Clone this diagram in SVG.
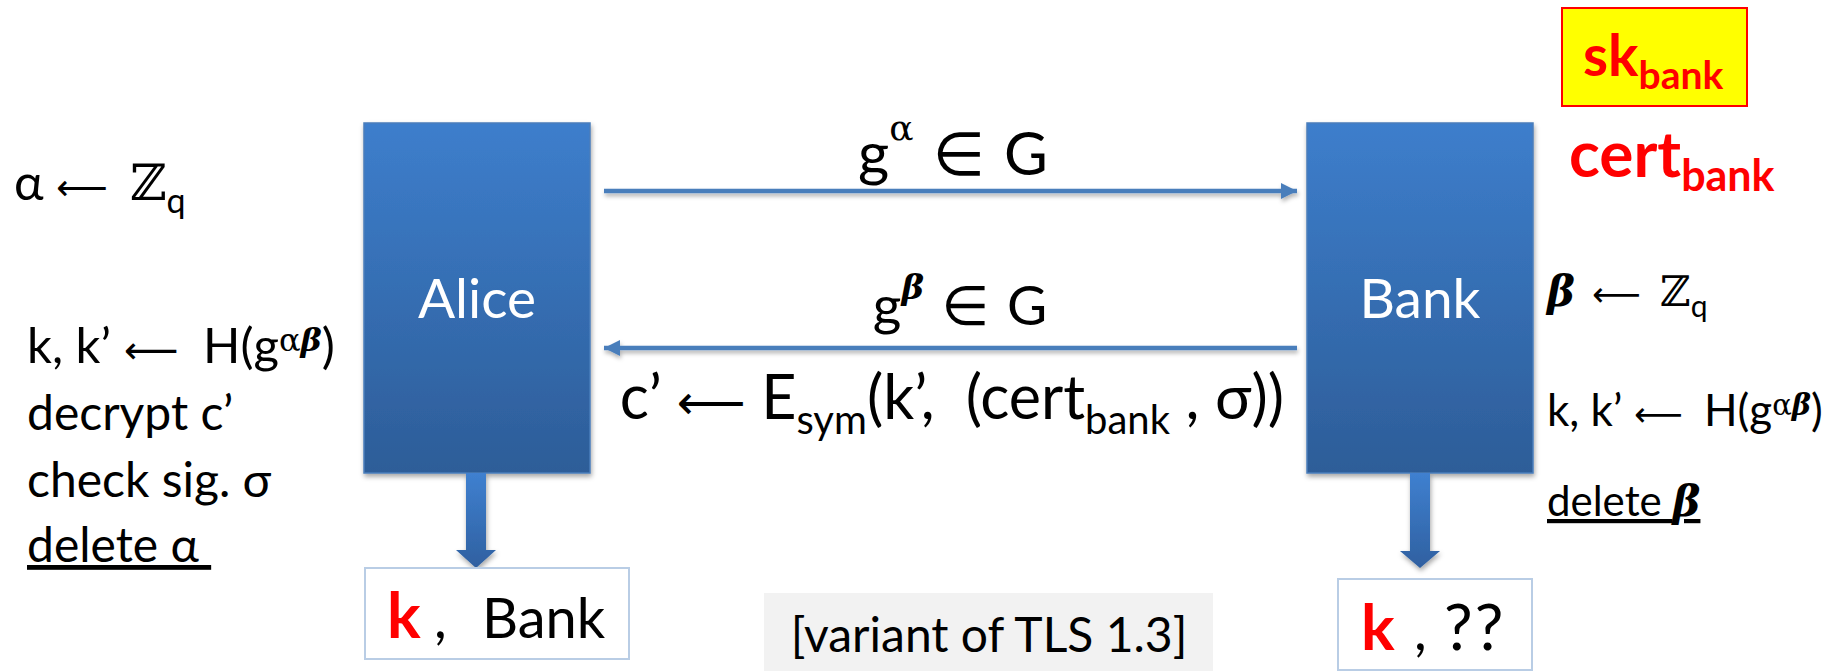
<svg xmlns="http://www.w3.org/2000/svg" width="1835" height="671" viewBox="0 0 1835 671">
<style>
 .t{font-family:Lato,"DejaVu Sans",sans-serif;fill:#000}
 .m{font-family:"DejaVu Serif","Liberation Serif",serif}
 .bi{font-family:"DejaVu Serif","Liberation Serif",serif;font-weight:bold;font-style:italic}
 .ar{font-family:"DejaVu Sans",sans-serif}
 .red{fill:#ff0000;font-weight:bold}
 .lbl{font-family:Lato,"DejaVu Sans",sans-serif;fill:#fff;font-size:55px;text-anchor:middle}
 .conn{stroke:#4a7ebb;stroke-width:4.5;fill:none}
 .res{fill:#fff;stroke:#b9cde5;stroke-width:2}
</style>
<defs>
 <linearGradient id="boxg" x1="0" y1="0" x2="0" y2="1">
  <stop offset="0" stop-color="#3d7ecc"/>
  <stop offset="1" stop-color="#2d5d98"/>
 </linearGradient>
 <linearGradient id="arrg" x1="0" y1="0" x2="0" y2="1">
  <stop offset="0" stop-color="#3f80d0"/>
  <stop offset="1" stop-color="#2f60a0"/>
 </linearGradient>
 <filter id="sh" x="-20%" y="-20%" width="140%" height="150%">
  <feDropShadow dx="1" dy="3" stdDeviation="2.5" flood-color="#000" flood-opacity="0.35"/>
 </filter>
 <filter id="lsh" filterUnits="userSpaceOnUse" x="0" y="0" width="1835" height="671">
  <feDropShadow dx="1" dy="3" stdDeviation="2" flood-color="#000" flood-opacity="0.3"/>
 </filter>
 <marker id="ah" viewBox="0 0 10 10" refX="10" refY="5" markerWidth="3.6" markerHeight="4" orient="auto" markerUnits="strokeWidth">
  <path d="M0,0 L10,5 L0,10 z" fill="#4a7ebb"/>
 </marker>
</defs>

<g id="alice">
 <rect x="364" y="123" width="226" height="350" fill="url(#boxg)" stroke="#4a7ebb" stroke-width="1.5" filter="url(#sh)"/>
 <text class="lbl" x="477" y="318">Alice</text>
</g>

<g id="bank">
 <rect x="1307" y="123" width="226" height="350" fill="url(#boxg)" stroke="#4a7ebb" stroke-width="1.5" filter="url(#sh)"/>
 <text class="lbl" x="1420" y="318">Bank</text>
</g>

<g id="connectors">
 <g filter="url(#lsh)">
  <line class="conn" x1="604" y1="191" x2="1297" y2="191" marker-end="url(#ah)"/>
  <line class="conn" x1="1297" y1="348" x2="604" y2="348" marker-end="url(#ah)"/>
 </g>
 <path d="M466,473 H486 V550 H496 L476,568 L456,550 H466 Z" fill="url(#arrg)" filter="url(#sh)"/>
 <path d="M1410,473 H1430 V551 H1440 L1420,568 L1400,551 H1410 Z" fill="url(#arrg)" filter="url(#sh)"/>
</g>

<g id="msg1">
 <text class="t" x="953" y="175" font-size="60" text-anchor="middle">g<tspan class="m" dy="-35" font-size="36">α</tspan><tspan class="ar" dy="35"> ∈ </tspan>G</text>
</g>
<g id="msg2">
 <text class="t" x="960" y="325" font-size="55" text-anchor="middle">g<tspan class="bi" dy="-26" font-size="34">β</tspan><tspan class="ar" dy="26"> ∈ </tspan>G</text>
</g>
<g id="msg3">
 <text class="t" x="952" y="419" font-size="61" text-anchor="middle" xml:space="preserve">c’ <tspan class="ar" font-size="48">⟵</tspan> E<tspan dy="15" font-size="40">sym</tspan><tspan dy="-15">(k’,  (cert</tspan><tspan dy="15" font-size="40">bank</tspan><tspan dy="-15"> , σ))</tspan></text>
</g>

<g id="alice-steps">
 <text class="t" x="14" y="200" font-size="50">α<tspan class="ar" x="56" font-size="36">⟵</tspan><tspan class="m" x="130">ℤ</tspan><tspan dy="13" font-size="34">q</tspan></text>
 <text class="t" x="27" y="363" font-size="49">k, k’<tspan class="ar" x="124" font-size="38">⟵</tspan><tspan x="203">H(g</tspan><tspan class="m" dy="-12" font-size="32">α</tspan><tspan class="bi" font-size="32">β</tspan><tspan dy="12">)</tspan></text>
 <text class="t" x="27" y="430" font-size="48">decrypt c’</text>
 <text class="t" x="27" y="497" font-size="48">check sig. σ</text>
 <text class="t" x="27" y="562" font-size="48" text-decoration="underline" xml:space="preserve">delete α </text>
</g>

<g id="bank-keys">
 <rect x="1562" y="8" width="185" height="98" fill="#ffff00" stroke="#ff0000" stroke-width="2"/>
 <text class="t red" x="1583" y="76" font-size="57">sk<tspan dy="13" font-size="39">bank</tspan></text>
 <text class="t red" x="1569" y="177" font-size="64">cert<tspan dy="14" font-size="43">bank</tspan></text>
</g>

<g id="bank-steps">
 <text class="t" x="1547" y="306" font-size="42"><tspan class="bi">β</tspan><tspan class="ar" x="1592" font-size="34">⟵</tspan><tspan class="m" x="1660">ℤ</tspan><tspan dy="11" font-size="30">q</tspan></text>
 <text class="t" x="1547" y="426" font-size="44">k, k’<tspan class="ar" x="1634" font-size="34">⟵</tspan><tspan x="1704">H(g</tspan><tspan class="m" dy="-11" font-size="29">α</tspan><tspan class="bi" font-size="29">β</tspan><tspan dy="11">)</tspan></text>
 <text class="t" x="1547" y="516" font-size="42" text-decoration="underline">delete <tspan class="bi">β</tspan></text>
</g>

<g id="alice-result">
 <rect class="res" x="365" y="568" width="264" height="91"/>
 <text class="t" x="387" y="638" font-size="56"><tspan class="red" font-size="63">k</tspan><tspan x="434">,</tspan><tspan x="482">Bank</tspan></text>
</g>

<g id="bank-result">
 <rect class="res" x="1338" y="579" width="194" height="91"/>
 <text class="t" x="1361" y="650" font-size="56"><tspan class="red" font-size="63">k</tspan><tspan x="1414">,</tspan><tspan x="1444" font-size="64" letter-spacing="2">??</tspan></text>
</g>

<g id="note">
 <rect x="764" y="593" width="449" height="78" fill="#f2f2f2"/>
 <text class="t" x="989" y="652" font-size="48" text-anchor="middle">[variant of TLS 1.3]</text>
</g>
</svg>
